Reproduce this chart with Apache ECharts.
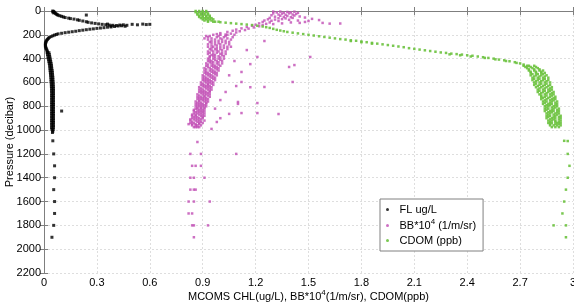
<!DOCTYPE html>
<html>
<head>
<meta charset="utf-8">
<script src="https://cdn.jsdelivr.net/npm/echarts@6/dist/echarts.min.js"></script>
<style>
  html, body { margin: 0; padding: 0; background: #fff; }
  #chart { width: 574px; height: 306px; }
</style>
</head>
<body>
<div id="chart"></div>
<script>
// axis ticks
const xTicks = [0, 0.3, 0.6, 0.9, 1.2, 1.5, 1.8, 2.1, 2.4, 2.7, 3];
const yTicks = [0, 200, 400, 600, 800, 1000, 1200, 1400, 1600, 1800, 2000, 2200];
const seriesNames = ['FL ug/L', 'BB*10^4 (1/m/sr)', 'CDOM (ppb)'];

// FL: [value, pressure] points, upper peak + return branch
const flPoints = [
  [0.05,0],[0.055,4],[0.05,8],[0.06,12],[0.055,16],[0.065,20],[0.07,26],[0.075,30],[0.08,36],[0.09,40],
  [0.1,45],[0.11,50],[0.12,55],[0.14,60],[0.15,64],[0.17,68],[0.19,74],[0.2,78],[0.22,84],[0.24,90],
  [0.25,95],[0.27,100],[0.29,104],[0.31,108],[0.33,112],[0.35,115],[0.37,118],[0.39,120],[0.41,122],
  [0.43,118],[0.45,116],[0.47,120],[0.5,112],[0.53,116],[0.56,110],[0.58,114],[0.6,112],[0.36,110],
  [0.38,126],[0.42,126],[0.46,128],[0.44,124],[0.24,34],
  [0.40,130],[0.38,134],[0.36,136],[0.34,140],[0.32,143],[0.3,146],[0.28,150],[0.26,153],[0.24,157],
  [0.22,161],[0.2,165],[0.18,170],[0.16,174],[0.14,178],[0.12,182],[0.1,187],[0.08,192],[0.07,197],
  [0.06,202],[0.05,208],[0.04,215],[0.03,222],[0.025,230],[0.02,238],[0.015,246],[0.012,255],[0.01,265],
  [0.008,275],[0.008,285],[0.008,295],[0.01,305],[0.012,315],[0.015,325],[0.018,335],[0.02,345],
  [0.1,840],[0.05,1010],[0.048,1020],
  [0.05,1090],[0.055,1200],[0.06,1300],[0.06,1400],[0.055,1500],[0.06,1600],[0.06,1700],[0.055,1800],[0.045,1900]
];
// FL deep band: [pressure, x1, x2]
const flRows = [
  [350,0.018,0.028],[365,0.02,0.03],[380,0.022,0.032],[395,0.024,0.034],[410,0.026,0.036],[425,0.028,0.038],
  [440,0.03,0.04],[455,0.032,0.042],[470,0.033,0.043],[485,0.034,0.044],[500,0.035,0.046],[515,0.036,0.047],
  [530,0.037,0.048],[545,0.038,0.049],[560,0.039,0.05],[575,0.04,0.05],[590,0.04,0.051],[605,0.041,0.052],
  [620,0.042,0.052],[635,0.042,0.053],[650,0.043,0.053],[665,0.043,0.054],[680,0.043,0.053],[695,0.044,0.054],
  [710,0.043,0.053],[725,0.044,0.054],[740,0.043,0.053],[755,0.044,0.054],[770,0.043,0.053],[785,0.044,0.054],
  [800,0.043,0.053],[815,0.044,0.054],[830,0.043,0.053],[845,0.044,0.054],[860,0.043,0.053],[875,0.044,0.054],
  [890,0.043,0.053],[905,0.044,0.054],[920,0.043,0.053],[935,0.044,0.054],[950,0.043,0.053],[965,0.044,0.054],
  [980,0.043,0.053],[995,0.045,0.052]
];

// BB*10^4: surface cluster, transition, outliers, deep samples
const bbPoints = [
  [1.30,5],[1.34,5],[1.38,8],[1.42,6],[1.32,12],[1.36,14],[1.40,12],[1.44,16],[1.30,20],[1.35,22],[1.39,20],
  [1.43,25],[1.33,30],[1.37,32],[1.41,30],[1.29,36],[1.34,40],[1.38,42],[1.42,38],[1.31,48],[1.36,50],[1.40,52],
  [1.45,46],[1.28,58],[1.33,60],[1.37,62],[1.41,58],[1.48,55],[1.27,70],[1.31,72],[1.35,68],[1.39,74],[1.52,66],
  [1.25,80],[1.29,82],[1.33,84],[1.44,80],[1.56,76],[1.58,100],[1.62,106],[1.68,105],[1.48,92],[1.24,92],
  [1.28,96],[1.22,104],[1.26,108],[1.2,116],[1.24,118],[1.18,124],[1.22,128],[1.15,134],[1.19,138],[1.12,146],
  [1.16,148],[1.09,156],[1.14,160],[1.07,166],[1.11,170],[1.04,176],[1.09,180],[1.0,186],[1.06,190],[0.98,194],
  [1.03,198],[0.92,210],[0.91,230],[1.3,110],[1.35,104],[1.4,96],[1.45,100],[1.5,84],
  [1.21,386],[1.15,328],[1.25,252],[1.51,386],[1.39,470],[1.42,454],[1.41,596],[1.25,638],[1.12,512],[1.12,596],
  [1.09,630],[1.17,446],[1.17,640],[1.21,773],[1.10,764],[1.10,780],[1.21,857],[1.12,857],[1.33,865],[1.05,864],
  [1.0,748],[0.98,932],[0.87,1100],[1.06,300],[1.08,420],[1.05,540],[1.03,680],[0.97,820],[1.0,900],[0.82,950],[0.95,990],
  [0.83,1200],[0.89,1200],[1.09,1200],[0.84,1300],[0.86,1300],[0.89,1300],[0.83,1400],[0.85,1400],[0.91,1400],
  [0.83,1500],[0.85,1500],[0.86,1500],[0.82,1600],[0.85,1600],[0.94,1600],[0.82,1700],[0.84,1700],
  [0.84,1800],[0.85,1800],[0.93,1800],[0.85,1900]
];
// BB main band: [pressure, x1..x4]
const bbRows = [
  [200,0.96,1.0,1.04,1.08],[210,0.94,0.99,1.03],[220,0.93,0.98,1.02,1.07],[230,0.95,1.0,1.04],[240,0.93,0.97,1.01,1.06],
  [250,0.95,0.99,1.03],[260,0.94,0.97,1.01,1.05],[270,0.95,0.99,1.03],[280,0.93,0.97,1.0,1.05],[290,0.95,0.98,1.02],
  [300,0.93,0.96,1.0,1.04],[310,0.95,0.98,1.02],[320,0.94,0.97,1.0,1.04],[330,0.95,0.98,1.01],[340,0.93,0.96,0.99,1.03],
  [350,0.94,0.98,1.01],[360,0.93,0.96,1.0,1.03],[370,0.95,0.97,1.01],[380,0.94,0.96,0.99,1.02],[390,0.94,0.97,1.0],
  [400,0.93,0.96,0.99,1.02],[410,0.94,0.97,1.0],[420,0.93,0.95,0.98,1.01],[430,0.94,0.96,0.99],
  [440,0.92,0.95,0.98,1.01],[450,0.93,0.96,0.99],[460,0.92,0.95,0.97,1.0],[470,0.93,0.96,0.98],
  [480,0.91,0.94,0.97,0.99],[490,0.92,0.95,0.98],[500,0.91,0.94,0.96,0.99],[510,0.92,0.95,0.97],
  [520,0.91,0.93,0.96,0.98],[530,0.92,0.94,0.97],[540,0.9,0.93,0.95,0.98],[550,0.91,0.94,0.96],
  [560,0.9,0.92,0.95,0.97],[570,0.91,0.93,0.96],[580,0.9,0.92,0.94,0.97],[590,0.91,0.93,0.95],
  [600,0.89,0.92,0.94,0.96],[610,0.9,0.93,0.95],[620,0.89,0.91,0.93,0.96],[630,0.9,0.92,0.94],
  [640,0.88,0.91,0.93,0.95],[650,0.89,0.92,0.94],[660,0.88,0.9,0.93,0.95],[670,0.89,0.91,0.94],
  [680,0.88,0.9,0.92,0.94],[690,0.89,0.91,0.93],[700,0.87,0.9,0.92,0.94],[710,0.88,0.91,0.93],
  [720,0.87,0.89,0.91,0.94],[730,0.88,0.9,0.92],[740,0.87,0.89,0.91,0.93],[750,0.88,0.9,0.92],
  [760,0.86,0.88,0.91,0.93],[770,0.87,0.89,0.92],[780,0.86,0.88,0.9,0.92],[790,0.87,0.89,0.91],
  [800,0.86,0.88,0.9,0.92],[810,0.87,0.89,0.91],[820,0.86,0.87,0.89,0.91],[830,0.85,0.88,0.9],
  [840,0.85,0.87,0.89,0.91],[850,0.86,0.88,0.9],[860,0.85,0.87,0.89,0.91],[870,0.84,0.86,0.88,0.9],
  [880,0.84,0.86,0.89,0.91],[890,0.85,0.87,0.9],[900,0.84,0.86,0.88,0.9],[910,0.83,0.85,0.87,0.89],
  [920,0.83,0.86,0.88,0.91],[930,0.84,0.87,0.89],[940,0.83,0.85,0.88,0.9],[950,0.84,0.86,0.88],
  [960,0.84,0.86,0.87,0.89],[975,0.85,0.86,0.87,0.88]
];

// CDOM: thermocline line + deep samples
const cdomPoints = [
  [0.97,90],[1.0,94],[1.03,98],[1.06,102],[1.09,106],[1.12,110],[1.15,114],[1.18,118],[1.21,124],[1.24,130],
  [1.26,136],[1.28,142],[1.3,150],[1.32,158],[1.34,164],[1.36,170],[1.38,176],[1.41,182],[1.44,188],[1.47,194],
  [1.5,200],[1.53,206],[1.56,212],[1.59,218],[1.62,224],[1.65,230],[1.68,236],[1.71,240],[1.74,246],[1.77,250],
  [1.8,256],[1.83,262],[1.86,268],[1.89,274],[1.92,280],[1.95,286],[1.98,292],[2.01,298],[2.04,304],[2.07,312],
  [2.1,318],[2.13,324],[2.16,330],[2.19,336],[2.22,342],[2.25,348],[2.28,352],[2.31,358],[2.34,362],[2.37,366],
  [2.4,372],[2.43,376],[2.46,382],[2.49,388],[2.52,394],[2.55,400],[2.58,408],[2.61,414],[2.64,422],[2.67,430],
  [2.7,440],[2.72,450],[2.74,460],
  [1.74,252],[1.8,262],[1.86,274],[2.3,364],[2.36,372],[2.42,382],[2.5,394],[2.56,406],[2.62,420],[2.68,436],
  [2.95,1090],[2.97,1092],[2.97,1200],[2.98,1300],[2.97,1400],[2.96,1500],[2.95,1600],[2.94,1700],
  [2.89,1800],[2.96,1800],[2.96,1900]
];
// CDOM surface cluster and deep band: [pressure, x...]
const cdomRows = [
  [0,0.86,0.88,0.9,0.92],[10,0.86,0.88,0.9,0.92],[20,0.87,0.89,0.91,0.93],[30,0.87,0.89,0.91,0.93],
  [40,0.88,0.9,0.92,0.94],[50,0.88,0.9,0.92,0.94],[60,0.89,0.91,0.93,0.95],[70,0.9,0.92,0.94,0.96],
  [80,0.91,0.93,0.95],[90,0.93,0.96,0.99],
  [460,2.72,2.75,2.78],[470,2.73,2.76,2.79],[480,2.74,2.77,2.8],[490,2.75,2.78,2.81],
  [500,2.75,2.78,2.81,2.83],[510,2.76,2.79,2.82],[520,2.76,2.79,2.82,2.84],[530,2.77,2.8,2.83],
  [540,2.76,2.79,2.82,2.85],[550,2.78,2.81,2.84],[560,2.77,2.8,2.83,2.86],[570,2.78,2.81,2.84],
  [580,2.77,2.8,2.83,2.86],[590,2.79,2.82,2.85],[600,2.78,2.81,2.84,2.87],[610,2.79,2.82,2.85],
  [620,2.78,2.81,2.84,2.87],[630,2.8,2.83,2.86],[640,2.79,2.82,2.85,2.88],[650,2.81,2.84,2.87],
  [660,2.8,2.83,2.86,2.88],[670,2.81,2.84,2.87],[680,2.8,2.83,2.86,2.89],[690,2.82,2.85,2.88],
  [700,2.81,2.84,2.87,2.89],[710,2.82,2.85,2.88],[720,2.82,2.84,2.87,2.9],[730,2.83,2.86,2.89],
  [740,2.82,2.85,2.88,2.9],[750,2.84,2.87,2.89],[760,2.83,2.85,2.88,2.91],[770,2.84,2.87,2.9],
  [780,2.83,2.86,2.88,2.91],[790,2.85,2.87,2.9],[800,2.84,2.86,2.89,2.91],[810,2.85,2.88,2.9],
  [820,2.84,2.86,2.89,2.92],[830,2.85,2.88,2.91],[840,2.84,2.87,2.89,2.92],[850,2.86,2.88,2.91],
  [860,2.85,2.87,2.9,2.92],[870,2.86,2.89,2.91],[880,2.85,2.87,2.9,2.93],[890,2.86,2.89,2.92],
  [900,2.85,2.88,2.9,2.93],[910,2.87,2.89,2.92],[920,2.86,2.88,2.9,2.93],[930,2.87,2.9,2.92],
  [940,2.86,2.88,2.91,2.93],[950,2.87,2.9,2.92],[960,2.87,2.89,2.91,2.93],[975,2.88,2.9,2.92]
];

function rowsToPoints(rows) {
  const out = [];
  rows.forEach(r => { for (let i = 1; i < r.length; i++) out.push([r[i], r[0]]); });
  return out;
}

const flData = flPoints.concat(rowsToPoints(flRows));
const bbData = bbPoints.concat(rowsToPoints(bbRows));
const cdomData = cdomPoints.concat(rowsToPoints(cdomRows));

const colors = ['#000000', '#c04cb4', '#6cc23e'];
const axisGray = '#7f7f7f';
const font = 'Liberation Sans, Arial, sans-serif';

const chart = echarts.init(document.getElementById('chart'));

const option = {
  animation: false,
  backgroundColor: '#fff',
  textStyle: { fontFamily: font },
  grid: { left: 44, right: 1, top: 11, bottom: 33, containLabel: false, outerBoundsMode: 'none' },
  legend: {
    orient: 'vertical',
    left: 380, top: 199,
    padding: [4, 7, 4, 6],
    itemGap: 2,
    itemWidth: 14, itemHeight: 3,
    icon: 'circle',
    borderColor: '#808080', borderWidth: 1,
    backgroundColor: '#fff',
    data: seriesNames,
    formatter: function (name) {
      return name === seriesNames[1] ? 'BB*10{sup|4} (1/m/sr)' : name;
    },
    textStyle: {
      fontFamily: font, fontSize: 11, color: '#000', lineHeight: 13,
      rich: { sup: { fontSize: 8, padding: [0, 0, 7, 0], fontFamily: font, color: '#000' } }
    }
  },
  xAxis: [{
    type: 'value', min: 0, max: 3, interval: 0.3,
    name: 'MCOMS CHL(ug/L), BB*10{sup|4}(1/m/sr), CDOM(ppb)',
    nameLocation: 'middle', nameGap: 16, nameMoveOverlap: false,
    nameTextStyle: {
      fontFamily: font, fontSize: 11, color: '#000',
      rich: { sup: { fontSize: 8, padding: [0, 0, 7, 0], fontFamily: font, color: '#000' } }
    },
    axisLine: { lineStyle: { color: axisGray } },
    axisTick: { inside: true, length: 4, lineStyle: { color: axisGray } },
    axisLabel: {
      margin: 4, color: '#000', fontSize: 11, fontFamily: font,
      formatter: v => String(xTicks.find(t => Math.abs(t - v) < 1e-6))
    },
    splitLine: { show: true, lineStyle: { color: '#dedede', type: [2, 2] } }
  }, {
    type: 'value', position: 'top', min: 0, max: 3, interval: 0.3,
    axisLine: { show: true, lineStyle: { color: axisGray } },
    axisTick: { inside: true, length: 4, lineStyle: { color: axisGray } },
    axisLabel: { show: false }, splitLine: { show: false }
  }],
  yAxis: [{
    type: 'value', inverse: true, min: 0, max: 2200, interval: 200,
    name: 'Pressure (decibar)', nameLocation: 'middle', nameGap: 29, nameMoveOverlap: false,
    nameTextStyle: { fontFamily: font, fontSize: 11, color: '#000' },
    axisLine: { show: true, lineStyle: { color: axisGray } },
    axisTick: { inside: true, length: 4, lineStyle: { color: axisGray } },
    axisLabel: {
      margin: 3, color: '#000', fontSize: 11, fontFamily: font,
      formatter: v => String(yTicks.find(t => t === v))
    },
    splitLine: { show: true, lineStyle: { color: '#dedede', type: [2, 2] } }
  }, {
    type: 'value', inverse: true, position: 'right', min: 0, max: 2200, interval: 200,
    axisLine: { show: true, lineStyle: { color: axisGray } },
    axisTick: { inside: true, length: 4, lineStyle: { color: axisGray } },
    axisLabel: { show: false }, splitLine: { show: false }
  }],
  series: [
    { name: seriesNames[0], type: 'scatter', data: flData, symbol: 'rect', symbolSize: 3,
      itemStyle: { color: colors[0] } },
    { name: seriesNames[1], type: 'scatter', data: bbData, symbol: 'rect', symbolSize: 2.5,
      itemStyle: { color: colors[1], opacity: 0.8 } },
    { name: seriesNames[2], type: 'scatter', data: cdomData, symbol: 'rect', symbolSize: 2.5,
      itemStyle: { color: colors[2], opacity: 0.9 } }
  ]
};

chart.setOption(option);
</script>
</body>
</html>
